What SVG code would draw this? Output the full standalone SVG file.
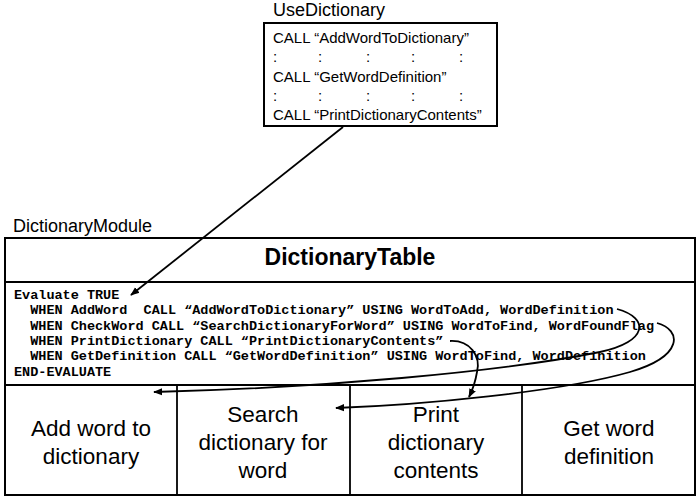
<svg xmlns="http://www.w3.org/2000/svg" width="700" height="500" viewBox="0 0 700 500">
<style>
.box{fill:#fff;stroke:#000;stroke-width:2}
.ln{stroke:#000;stroke-width:1.8;fill:none}
.lbl{font-family:"Liberation Sans",Arial,sans-serif;font-size:18px;fill:#000}
.call{font-family:"Liberation Sans",Arial,sans-serif;font-size:15px;fill:#000}
.title{font-family:"Liberation Sans",Arial,sans-serif;font-size:23px;font-weight:bold;fill:#000}
.code{font-family:"Liberation Mono","Courier New",monospace;font-size:13.5px;font-weight:bold;fill:#000;white-space:pre}
.cell{font-family:"Liberation Sans",Arial,sans-serif;font-size:22.5px;fill:#000;text-anchor:middle}
.conn{stroke:#000;stroke-width:1.8;fill:none;marker-end:url(#ah)}
</style>
<defs>
<marker id="ah" viewBox="0 0 10 10" refX="9" refY="5" markerWidth="5" markerHeight="5" orient="auto" markerUnits="strokeWidth">
<path d="M0,1 L10,5 L0,9 z" fill="#000"/>
</marker>
</defs>
<g id="UseDictionary">
<text class="lbl" x="273" y="16">UseDictionary</text>
<rect class="box" x="264" y="23" width="233" height="103" stroke-width="1.5"/>
<text class="call" x="273" y="43">CALL “AddWordToDictionary”</text>
<text class="call" x="273" y="62">:<tspan x="318">:</tspan><tspan x="366">:</tspan><tspan x="411">:</tspan><tspan x="459">:</tspan></text>
<text class="call" x="273" y="82">CALL “GetWordDefinition”</text>
<text class="call" x="273" y="101">:<tspan x="318">:</tspan><tspan x="366">:</tspan><tspan x="411">:</tspan><tspan x="459">:</tspan></text>
<text class="call" x="273" y="120">CALL “PrintDictionaryContents”</text>
</g>
<g id="DictionaryModule">
<text class="lbl" x="13" y="232" font-size="20">DictionaryModule</text>
<rect class="box" x="5" y="238" width="690" height="257"/>
<line class="ln" x1="5" y1="282" x2="695" y2="282"/>
<line class="ln" x1="5" y1="385" x2="695" y2="385"/>
<text class="title" x="350" y="265" text-anchor="middle">DictionaryTable</text>
</g>
<g id="EvaluateCode">
<text class="code" x="14" y="299">Evaluate TRUE</text>
<text class="code" x="14" y="314">  WHEN AddWord  CALL “AddWordToDictionary” USING WordToAdd, WordDefinition</text>
<text class="code" x="14" y="330">  WHEN CheckWord CALL “SearchDictionaryForWord” USING WordToFind, WordFoundFlag</text>
<text class="code" x="14" y="345">  WHEN PrintDictionary CALL “PrintDictionaryContents”</text>
<text class="code" x="14" y="360">  WHEN GetDefinition CALL “GetWordDefinition” USING WordToFind, WordDefinition</text>
<text class="code" x="14" y="376">END-EVALUATE</text>
</g>
<g id="cells">
<line class="ln" x1="177" y1="385" x2="177" y2="495"/>
<line class="ln" x1="350" y1="385" x2="350" y2="495"/>
<line class="ln" x1="522" y1="385" x2="522" y2="495"/>
</g>
<g id="AddWordCell">
<text class="cell" x="91" y="436">Add word to</text>
<text class="cell" x="91" y="464">dictionary</text>
</g>
<g id="SearchCell">
<text class="cell" x="263" y="422">Search</text>
<text class="cell" x="263" y="450">dictionary for</text>
<text class="cell" x="263" y="478">word</text>
</g>
<g id="PrintCell">
<text class="cell" x="436" y="422">Print</text>
<text class="cell" x="436" y="450">dictionary</text>
<text class="cell" x="436" y="478">contents</text>
</g>
<g id="GetDefCell">
<text class="cell" x="609" y="436">Get word</text>
<text class="cell" x="609" y="464">definition</text>
</g>
<g id="connectors">
<path class="conn" d="M343,127 L131,295"/>
<path class="conn" d="M617,309 C650,318 648,342 600,352 C500,372 320,388 154,392"/>
<path class="conn" d="M657,323 C682,330 684,356 630,372 C560,392 420,405 336,408"/>
<path class="conn" d="M450,341 C470,340 481,356 477,372 C475,384 472,391 469,397"/>
</g>
</svg>
